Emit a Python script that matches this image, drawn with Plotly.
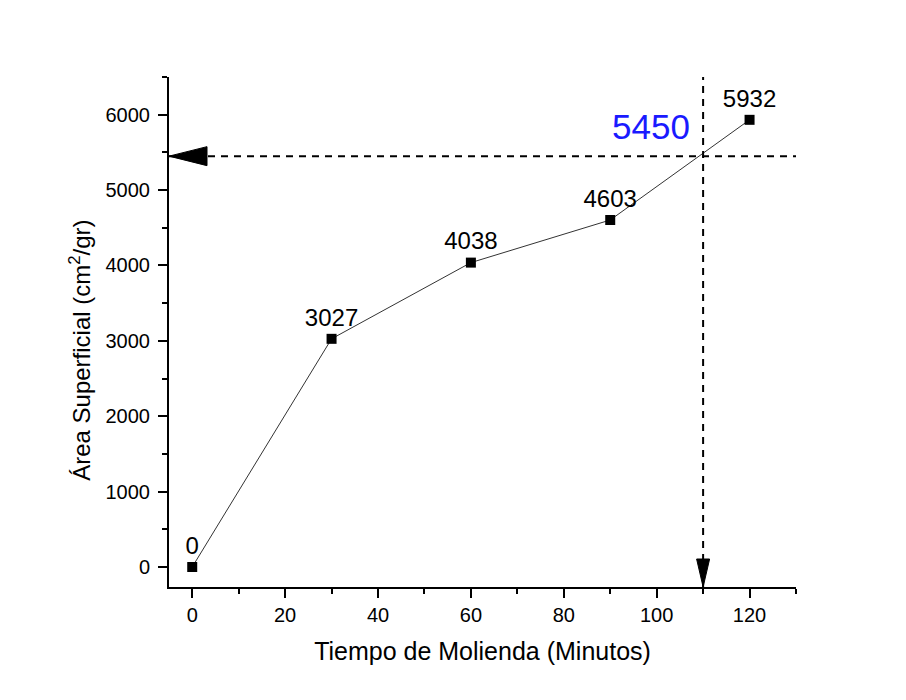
import plotly.graph_objects as go

# Data
tiempo = [0, 30, 60, 90, 120]
area = [0, 3027, 4038, 4603, 5932]
etiquetas = ["0", "3027", "4038", "4603", "5932"]
ref_tiempo = 110
ref_area = 5450
ref_label = "5450"

x_range = [-5, 130]
y_range = [-265, 6500]

FONT = "Liberation Sans, Arial, sans-serif"

fig = go.Figure()

fig.add_trace(go.Scatter(
    x=tiempo, y=area, mode="lines+markers+text",
    line=dict(color="#333333", width=1),
    marker=dict(symbol="square", size=10, color="black"),
    text=etiquetas, textposition="top center",
    textfont=dict(family=FONT, size=24, color="black"),
    cliponaxis=False, showlegend=False,
))

# dashed reference lines
fig.add_shape(type="line", xref="x", yref="y",
              x0=x_range[0], x1=x_range[1], y0=ref_area, y1=ref_area,
              line=dict(color="black", width=2, dash="7px,6px"))
fig.add_shape(type="line", xref="x", yref="y",
              x0=ref_tiempo, x1=ref_tiempo, y0=y_range[0], y1=y_range[1],
              line=dict(color="black", width=2, dash="7px,6px"))

# arrowheads
fig.add_shape(type="path", xref="x", yref="y",
              xsizemode="pixel", ysizemode="pixel",
              xanchor=x_range[0], yanchor=ref_area,
              path="M0,0 L38,9.5 L38,-9.5 Z",
              fillcolor="black", line=dict(color="black", width=1))
fig.add_shape(type="path", xref="x", yref="y",
              xsizemode="pixel", ysizemode="pixel",
              xanchor=ref_tiempo, yanchor=y_range[0],
              path="M0,0 L-6.5,28 L6.5,28 Z",
              fillcolor="black", line=dict(color="black", width=1))

fig.add_annotation(x=98.7, y=5843, xref="x", yref="y", text=ref_label,
                   showarrow=False,
                   font=dict(family=FONT, size=35, color="#1a1aff"))

# y-axis title
fig.add_annotation(x=-0.142, y=0.465, xref="paper", yref="paper",
                   text="Área Superficial (cm<sup>2</sup>/gr)", textangle=-90,
                   showarrow=False, xanchor="center", yanchor="middle",
                   font=dict(family=FONT, size=24, color="black"))

axis_common = dict(
    showline=True, linecolor="black", linewidth=2,
    ticks="outside", ticklen=9, tickwidth=2, tickcolor="black",
    showgrid=False, zeroline=False,
    tickfont=dict(family=FONT, size=20, color="black"),
    mirror=False,
)

fig.update_xaxes(range=x_range, dtick=20, tick0=0,
                 minor=dict(ticks="outside", ticklen=5, tickwidth=2, tickcolor="black", dtick=10, tick0=0),
                 title=dict(text="Tiempo de Molienda (Minutos)", font=dict(family=FONT, size=25, color="black"), standoff=17),
                 **axis_common)
fig.update_yaxes(range=y_range, dtick=1000, tick0=0, ticklabelstandoff=4,
                 minor=dict(ticks="outside", ticklen=5, tickwidth=2, tickcolor="black", dtick=500, tick0=0),
                 **axis_common)

fig.update_layout(
    width=906, height=700,
    margin=dict(l=169, r=110, t=77, b=113),
    paper_bgcolor="white", plot_bgcolor="white",
    font=dict(family=FONT),
)

fig.write_html("out.html")
